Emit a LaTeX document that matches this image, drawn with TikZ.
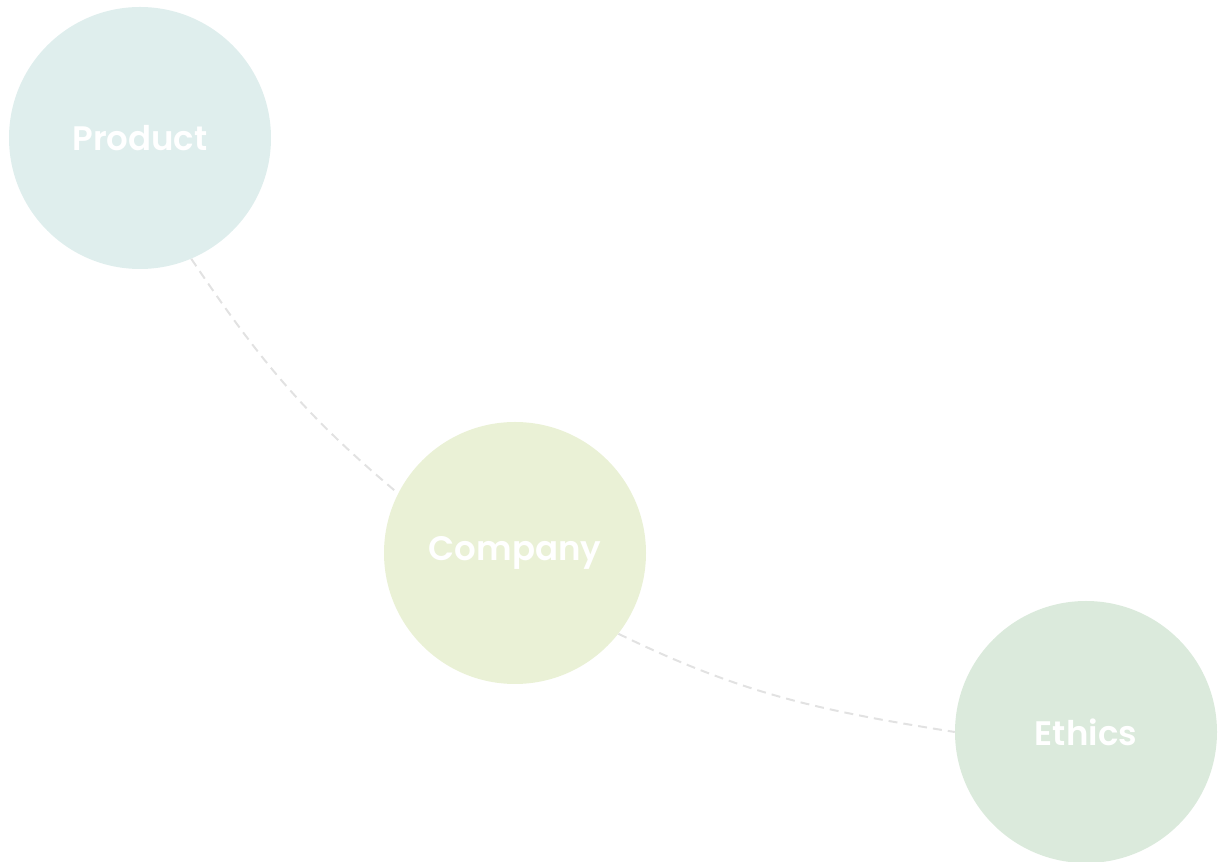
\documentclass[tikz,border=0pt]{standalone}
\usepackage{fontspec}
\setmainfont{Poppins}[BoldFont={Poppins SemiBold}]
\usetikzlibrary{backgrounds}
\definecolor{prodcol}{HTML}{DFEEED}
\definecolor{compcol}{HTML}{EAF1D6}
\definecolor{ethcol}{HTML}{DBEADC}
\definecolor{linkcol}{HTML}{E2E2E2}
\begin{document}
\begin{tikzpicture}[x=1pt, y=1pt,
        topic/.style={circle, minimum size=262pt, inner sep=0pt,
          text=white, font=\fontsize{34}{40}\selectfont\bfseries},
        link/.style={draw=linkcol, line width=2pt, dash pattern=on 9pt off 6pt}
        ]
        \useasboundingbox (0,0) rectangle (1227,862);
        \node[topic, fill=prodcol] (prod) at (140,724) {Product};
        \node[topic, fill=compcol] (comp) at (515,309) {Company};
        \node[topic, fill=ethcol] (eth) at (1086,130) {Ethics};
        \begin{scope}[on background layer]
          \draw[link] (prod.-67) to[out=-56, in=140] (comp.153);
          \draw[link] (comp.-38) to[out=-26, in=171] (eth.180);
        \end{scope}
\end{tikzpicture}
\end{document}
